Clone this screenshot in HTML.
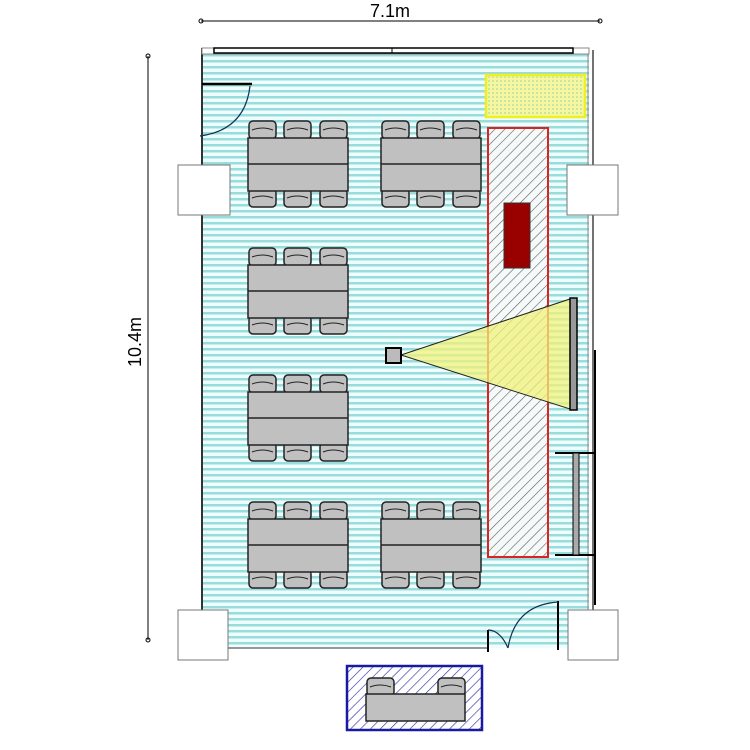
<!DOCTYPE html>
<html><head><style>body{margin:0;background:#fff}svg{display:block}</style></head><body>
<svg width="750" height="750" viewBox="0 0 750 750" xmlns="http://www.w3.org/2000/svg" font-family="Liberation Sans, sans-serif">
<defs>
<pattern id="fl" width="6" height="6" patternUnits="userSpaceOnUse"><rect width="6" height="6" fill="#eefefe"/><rect y="0" width="6" height="2.5" fill="#9adcdc"/></pattern>
<pattern id="hr" width="7" height="7" patternUnits="userSpaceOnUse" patternTransform="rotate(45)"><rect width="7" height="7" fill="#f4fafa"/><line x1="0" y1="0" x2="0" y2="7" stroke="#6a5a5a" stroke-width="1.2"/></pattern>
<pattern id="hb" width="7" height="7" patternUnits="userSpaceOnUse" patternTransform="rotate(45)"><rect width="7" height="7" fill="#fff"/><line x1="0" y1="0" x2="0" y2="7" stroke="#3333aa" stroke-width="1.3"/></pattern>
<pattern id="hy" width="4" height="4" patternUnits="userSpaceOnUse"><rect width="4" height="4" fill="#f6f6a0"/><rect width="2" height="2" fill="#c8e8a0"/></pattern>
<g id="ch"><rect x="0" y="0" width="27" height="18" rx="4" fill="#c0c0c0" stroke="#222" stroke-width="1.5"/><path d="M3 9 Q13 5 24 9" fill="none" stroke="#222"/></g>
<g id="tg">
<use href="#ch" x="1" y="0"/><use href="#ch" x="36" y="0"/><use href="#ch" x="72" y="0"/>
<use href="#ch" x="1" y="68"/><use href="#ch" x="36" y="68"/><use href="#ch" x="72" y="68"/>
<rect x="0" y="17" width="100" height="53" fill="#c0c0c0" stroke="#222" stroke-width="1.5"/>
<line x1="0" y1="43" x2="100" y2="43" stroke="#222" stroke-width="1.5"/>
</g>
</defs>
<line x1="201" y1="21" x2="600" y2="21" stroke="#000"/>
<circle cx="201" cy="21" r="2" fill="none" stroke="#000"/><circle cx="600" cy="21" r="2" fill="none" stroke="#000"/>
<text x="390" y="17" font-size="18" text-anchor="middle">7.1m</text>
<line x1="148" y1="56" x2="148" y2="640" stroke="#000"/>
<circle cx="148" cy="56" r="2" fill="none" stroke="#000"/><circle cx="148" cy="640" r="2" fill="none" stroke="#000"/>
<text transform="translate(141,342) rotate(-90)" font-size="18" text-anchor="middle">10.4m</text>
<rect x="202" y="54" width="387" height="594" fill="url(#fl)"/>
<line x1="202" y1="48" x2="202" y2="650" stroke="#333" stroke-width="2"/>
<line x1="202" y1="648" x2="488" y2="648" stroke="#777" stroke-width="1.5"/>
<line x1="588" y1="50" x2="588" y2="648" stroke="#888" stroke-width="1"/>
<line x1="593" y1="50" x2="593" y2="615" stroke="#444" stroke-width="1.5"/>
<line x1="595" y1="350" x2="595" y2="605" stroke="#000" stroke-width="2"/>
<rect x="202" y="48" width="387" height="6" fill="#fff" stroke="#888"/>
<rect x="214" y="48" width="359" height="5" fill="#fff" stroke="#000" stroke-width="1.5"/>
<line x1="392" y1="48" x2="392" y2="53" stroke="#000"/>
<rect x="178" y="165" width="52" height="50" fill="#fff" stroke="#777"/>
<rect x="567" y="165" width="51" height="50" fill="#fff" stroke="#777"/>
<rect x="178" y="610" width="50" height="50" fill="#fff" stroke="#777"/>
<rect x="568" y="610" width="50" height="50" fill="#fff" stroke="#777"/>
<line x1="202" y1="84" x2="252" y2="84" stroke="#000" stroke-width="2.5"/>
<path d="M250 86 Q245 130 200 136" fill="none" stroke="#135" stroke-width="1.2"/>
<line x1="488" y1="630" x2="488" y2="652" stroke="#000" stroke-width="2"/>
<path d="M488 630 Q500 630 508 648" fill="none" stroke="#135" stroke-width="1.2"/>
<line x1="558" y1="601" x2="558" y2="650" stroke="#000" stroke-width="2"/>
<path d="M558 602 Q515 605 508 648" fill="none" stroke="#135" stroke-width="1.2"/>
<use href="#tg" x="248" y="121"/><use href="#tg" x="381" y="121"/>
<use href="#tg" x="248" y="248"/>
<use href="#tg" x="248" y="375"/>
<use href="#tg" x="248" y="502"/><use href="#tg" x="381" y="502"/>
<rect x="486" y="75" width="99" height="42" fill="url(#hy)" stroke="#f0f020" stroke-width="2.5"/>
<rect x="488" y="128" width="60" height="429" fill="url(#hr)" stroke="#dd2222" stroke-width="2"/>
<rect x="504" y="203" width="26" height="65" fill="#990000" stroke="#333"/>
<polygon points="401,355 573,298 573,410" fill="#f2f27a" fill-opacity="0.75" stroke="#222"/>
<rect x="570" y="298" width="7" height="112" fill="#999" stroke="#000" stroke-width="1.5"/>
<rect x="386" y="348" width="15" height="15" fill="#bbb" stroke="#000" stroke-width="2"/>
<line x1="555" y1="453" x2="595" y2="453" stroke="#000" stroke-width="2"/>
<line x1="555" y1="555" x2="595" y2="555" stroke="#000" stroke-width="2"/>
<rect x="573" y="453" width="6" height="102" fill="#aaa" stroke="#000"/>
<rect x="347" y="666" width="135" height="64" fill="url(#hb)" stroke="#1a1aa0" stroke-width="2.5"/>
<use href="#ch" x="367" y="678"/><use href="#ch" x="438" y="678"/>
<rect x="366" y="694" width="99" height="27" fill="#c0c0c0" stroke="#222" stroke-width="1.5"/>
</svg>
</body></html>
